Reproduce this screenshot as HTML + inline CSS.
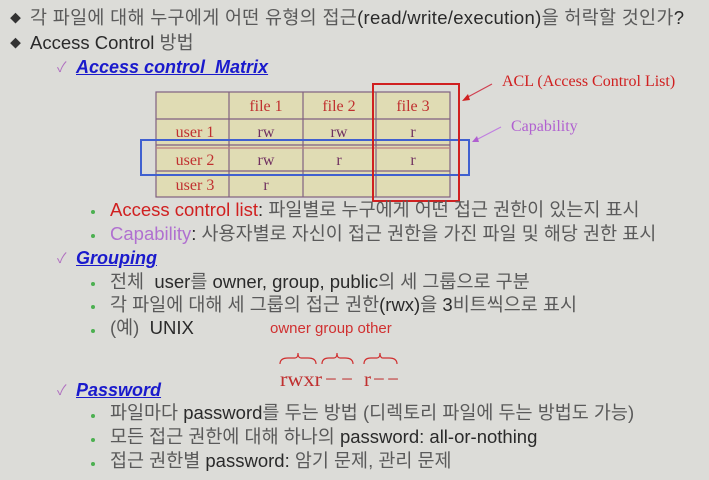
<!DOCTYPE html>
<html><head><meta charset="utf-8"><style>
body{margin:0;width:709px;height:480px;background:#dcdcd8;overflow:hidden;position:relative;font-family:"Liberation Sans","Noto Sans CJK KR",sans-serif;color:#2a2a2a}
.t{position:absolute;white-space:nowrap;font-size:18.5px;line-height:20px}
.k{color:#5a5a5a}
.h{position:absolute;white-space:nowrap;font-size:17px;font-weight:bold;font-style:italic;color:#1a1acc;text-decoration:underline;line-height:20px}
.ck{position:absolute;color:#b070c0;font-size:14px;line-height:20px}
.dot{position:absolute;width:4px;height:4px;border-radius:50%;background:#4cb050}
.tri{position:absolute;font-size:11px;color:#333;line-height:20px}
</style></head><body>
<div class="tri" style="left:10px;top:9px">◆</div>
<div class="t" style="left:30px;top:8px;letter-spacing:0.3px"><span class="k">각 파일에 대해 누구에게 어떤 유형의 접근</span>(read/write/execution)<span class="k">을 허락할 것인가</span>?</div>
<div class="tri" style="left:10px;top:34px">◆</div>
<div class="t" style="left:30px;top:33px">Access Control <span class="k">방법</span></div>
<div class="ck" style="left:57px;top:57px">✓</div>
<div class="h" style="left:76px;top:57px;font-size:18px">Access control&nbsp; Matrix</div>

<svg width="709" height="480" style="position:absolute;left:0;top:0">
<rect x="156" y="92" width="294" height="105" fill="#e0dcb4" stroke="#806080" stroke-width="1.2"/>
<g stroke="#806080" stroke-width="1.2">
<line x1="229" y1="92" x2="229" y2="197"/><line x1="303" y1="92" x2="303" y2="197"/><line x1="376" y1="92" x2="376" y2="197"/>
<line x1="156" y1="119" x2="450" y2="119"/><line x1="156" y1="145" x2="450" y2="145"/><line x1="156" y1="148" x2="450" y2="148" stroke="#c08080"/><line x1="156" y1="171" x2="450" y2="171"/>
</g>
<g font-family="Liberation Serif,serif" font-size="16" text-anchor="middle">
<text x="266" y="111" fill="#c03030">file 1</text><text x="339" y="111" fill="#c03030">file 2</text><text x="413" y="111" fill="#c03030">file 3</text>
<text x="195" y="137" fill="#c03030">user 1</text><text x="266" y="137" fill="#703060">rw</text><text x="339" y="137" fill="#703060">rw</text><text x="413" y="137" fill="#703060">r</text>
<text x="195" y="165" fill="#c03030">user 2</text><text x="266" y="165" fill="#703060">rw</text><text x="339" y="165" fill="#703060">r</text><text x="413" y="165" fill="#703060">r</text>
<text x="195" y="190" fill="#c03030">user 3</text><text x="266" y="190" fill="#703060">r</text>
</g>
<rect x="141" y="140" width="328" height="35" fill="none" stroke="#4060d0" stroke-width="2"/>
<rect x="373" y="84" width="86" height="117" fill="none" stroke="#d02020" stroke-width="2"/>
<line x1="492" y1="84" x2="466" y2="98" stroke="#d04050" stroke-width="1.2"/>
<polygon points="462,101 468,94 470,100" fill="#d02020"/>
<line x1="501" y1="127" x2="476" y2="140" stroke="#c080e0" stroke-width="1.2"/>
<polygon points="472,142 477,136 479,142" fill="#b060d0"/>
<text x="502" y="86" font-family="Liberation Serif,serif" font-size="16" fill="#d02020">ACL (Access Control List)</text>
<text x="511" y="131" font-family="Liberation Serif,serif" font-size="16" fill="#b060d0">Capability</text>
<g fill="none" stroke="#d03030" stroke-width="1.2">
<path d="M280,364 Q280,358 288,358 L295,358 Q298,358 298,353 Q298,358 301,358 L308,358 Q316,358 316,364"/>
<path d="M322,364 Q322,358 329,358 L334,358 Q337,358 337,353 Q337,358 340,358 L345,358 Q353,358 353,364"/>
<path d="M364,364 Q364,358 371,358 L377,358 Q380,358 380,353 Q380,358 383,358 L389,358 Q397,358 397,364"/>
</g>
<g font-family="Liberation Serif,serif" font-size="21" fill="#c03030">
<text x="280" y="386" textLength="42" lengthAdjust="spacingAndGlyphs">rwxr</text>
<text x="325" y="386" textLength="28">−−</text>
<text x="364" y="386">r</text>
<text x="373" y="386" textLength="26">−−</text>
</g>
</svg>

<div class="dot" style="left:91px;top:210px"></div>
<div class="t" style="left:110px;top:200px"><span style="color:#d02020">Access control list</span>: <span class="k">파일별로 누구에게 어떤 접근 권한이 있는지 표시</span></div>
<div class="dot" style="left:91px;top:234px"></div>
<div class="t" style="left:110px;top:224px"><span style="color:#b070d0">Capability</span>: <span class="k">사용자별로 자신이 접근 권한을 가진 파일 및 해당 권한 표시</span></div>
<div class="ck" style="left:57px;top:248px">✓</div>
<div class="h" style="left:76px;top:248px;font-size:18px">Grouping</div>
<div class="dot" style="left:91px;top:282px"></div>
<div class="t" style="left:110px;top:272px"><span class="k">전체</span>&nbsp; user<span class="k">를</span> owner, group, public<span class="k">의 세 그룹으로 구분</span></div>
<div class="dot" style="left:91px;top:305px"></div>
<div class="t" style="left:110px;top:295px"><span class="k">각 파일에 대해 세 그룹의 접근 권한</span>(rwx)<span class="k">을</span> 3<span class="k">비트씩으로 표시</span></div>
<div class="dot" style="left:91px;top:329px"></div>
<div class="t" style="left:110px;top:318px"><span class="k">(예)</span>&nbsp; UNIX</div>
<div class="t" style="left:270px;top:319px;font-size:15px;color:#d03030">owner group other</div>
<div class="ck" style="left:57px;top:380px">✓</div>
<div class="h" style="left:76px;top:380px;font-size:18px">Password</div>
<div class="dot" style="left:91px;top:414px"></div>
<div class="t" style="left:110px;top:403px"><span class="k">파일마다</span> password<span class="k">를 두는 방법 (디렉토리 파일에 두는 방법도 가능)</span></div>
<div class="dot" style="left:91px;top:438px"></div>
<div class="t" style="left:110px;top:427px"><span class="k">모든 접근 권한에 대해 하나의</span> password: all-or-nothing</div>
<div class="dot" style="left:91px;top:462px"></div>
<div class="t" style="left:110px;top:451px"><span class="k">접근 권한별</span> password: <span class="k">암기 문제, 관리 문제</span></div>
</body></html>
